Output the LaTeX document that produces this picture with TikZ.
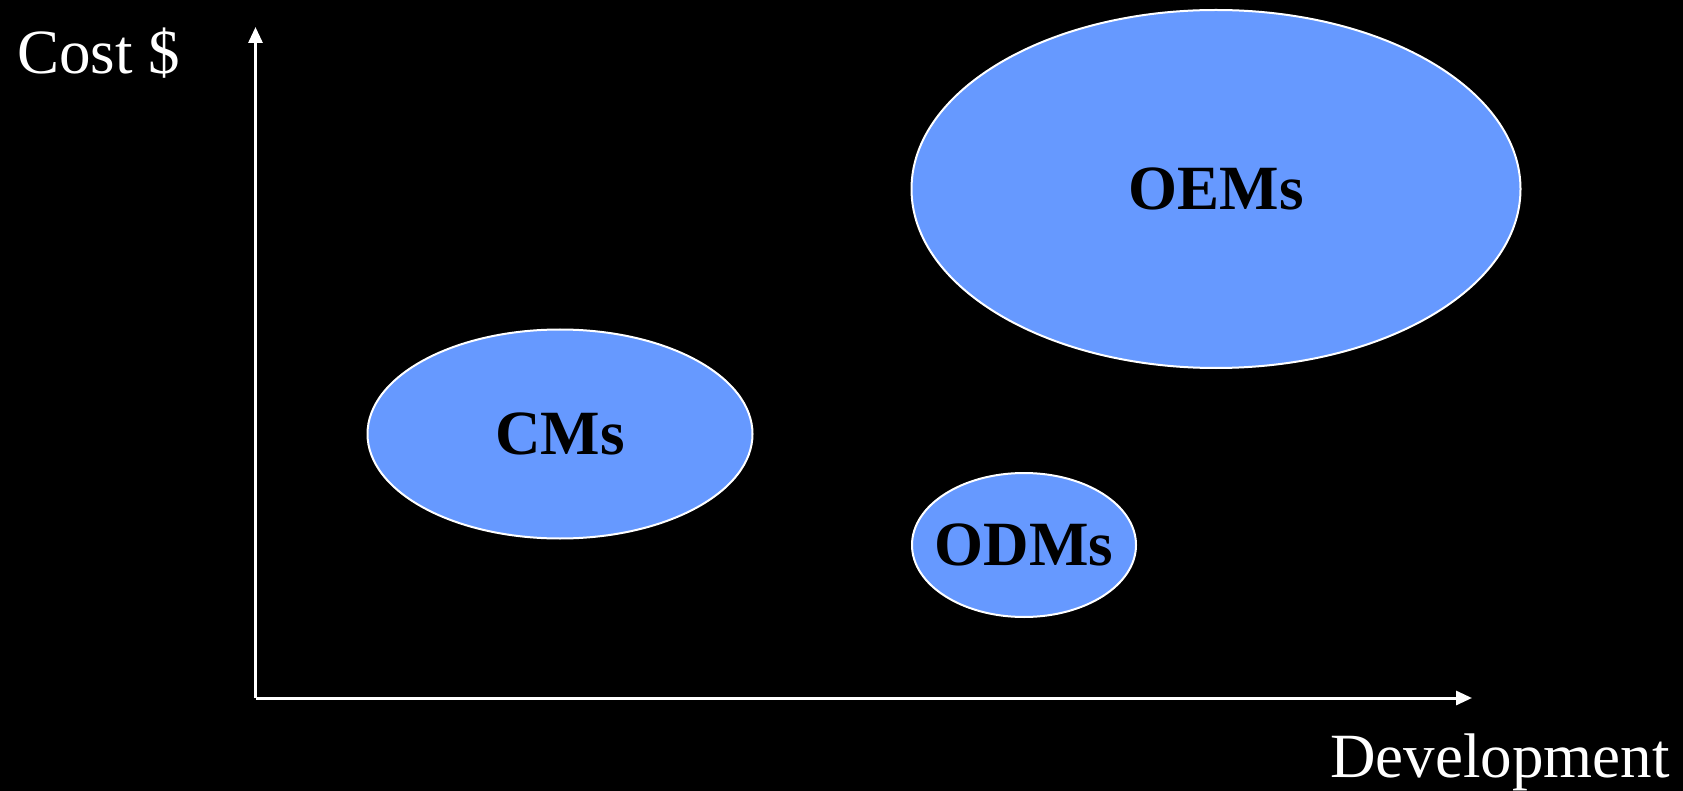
\documentclass[tikz,border=0pt]{standalone}
\usepackage{fontspec}
\setmainfont{Liberation Serif}
\usetikzlibrary{shapes.geometric,positioning,arrows.meta}
\definecolor{bubblefill}{HTML}{6699FF}
\newcommand{\bubbletext}[1]{\makebox[0pt]{#1}}
\tikzset{bubble/.style={ellipse, draw=white, line width=2pt, fill=bubblefill, inner sep=0pt, text=black, font=\fontsize{63}{70}\selectfont\bfseries},
         axislabel/.style={inner sep=0pt, text=white, font=\fontsize{63}{70}\selectfont},
         axis/.style={draw=white, line width=3pt, -{Triangle[length=16pt,width=14pt]}}}

\begin{document}
\begin{tikzpicture}[x=1pt, y=-1pt]
    \fill[black] (0,0) rectangle (1683,791);
    \useasboundingbox (0,0) rectangle (1683,791);

    \coordinate (o) at (255.5,698);
    \coordinate (ytop) at (255.5,27);
    \coordinate (xend) at (1472,698);

    \draw[axis] (o) -- (ytop);
    \draw[axis] (o) -- (xend);

    \node[axislabel, anchor=base west] (cost) at (17,74) {Cost \$};
    \node[axislabel, anchor=base east] (dev) at (1670,777) {Development};

    \node[bubble, minimum width=609pt, minimum height=358pt] (oems) at (1216,189) {\bubbletext{OEMs}};
    \node[bubble, minimum width=385pt, minimum height=209pt] (cms) at (560,434) {\bubbletext{CMs}};
    \node[bubble, minimum width=224pt, minimum height=144pt] (odms) at (1024,545) {\bubbletext{ODMs}};

\end{tikzpicture}
\end{document}
